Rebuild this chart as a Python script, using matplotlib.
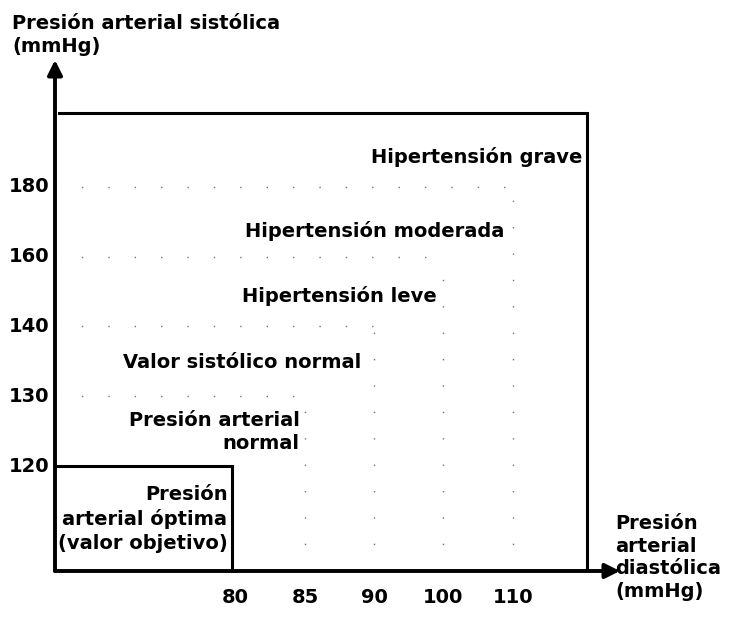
import numpy as np
import matplotlib
matplotlib.use("Agg")
import matplotlib.pyplot as plt

# Límites de clasificación (mmHg)
diastolic_ticks = [80, 85, 90, 100, 110]
systolic_ticks = [120, 130, 140, 160, 180]
categories = [
    "Presión\narterial óptima\n(valor objetivo)",
    "Presión arterial\nnormal",
    "Valor sistólico normal",
    "Hipertensión leve",
    "Hipertensión moderada",
    "Hipertensión grave",
]

plt.rcParams["font.family"] = ["DejaVu Sans"]
plt.rcParams["font.weight"] = "bold"

fig = plt.figure(figsize=(7.42, 6.26), dpi=100)
ax = fig.add_axes([55 / 742, 1 - 571 / 626, 565 / 742, 511 / 626])

x_pos = np.arange(len(diastolic_ticks))
y_pos = np.arange(len(systolic_ticks))
ax.set_xlim(-2.61, 5.55)
ax.set_ylim(-1.505, 5.82)

outer_x, outer_y = x_pos[-1] + 1.07, y_pos[-1] + 1.06

# cajas anidadas (casi borradas en el original)
for i in range(1, len(x_pos)):
    ax.plot([-2.61, x_pos[i]], [y_pos[i], y_pos[i]], color="0.45", lw=1.0,
            linestyle=(0, (1, 18)))
    ax.plot([x_pos[i], x_pos[i]], [-1.505, y_pos[i]], color="0.45", lw=1.0,
            linestyle=(0, (1, 18)))

# caja óptima
ax.plot([-2.61, x_pos[0] - 0.05, x_pos[0] - 0.05], [y_pos[0], y_pos[0], -1.505],
        color="black", lw=2.2, solid_joinstyle="miter")
# caja exterior
ax.plot([-2.55, outer_x, outer_x], [outer_y, outer_y, -1.505],
        color="black", lw=2.2, solid_joinstyle="miter")

for sp in ax.spines.values():
    sp.set_visible(False)

# ejes con flecha
ax.annotate("", xy=(1.0, 0), xytext=(0, 0), xycoords="axes fraction",
            arrowprops=dict(arrowstyle="-|>", lw=2.8, color="black", mutation_scale=22,
                            shrinkA=0, shrinkB=0))
ax.annotate("", xy=(0, 1.0), xytext=(0, 0), xycoords="axes fraction",
            arrowprops=dict(arrowstyle="-|>", lw=2.8, color="black", mutation_scale=22,
                            shrinkA=0, shrinkB=0))

ax.set_xticks(x_pos)
ax.set_xticklabels([str(v) for v in diastolic_ticks])
ax.set_yticks(y_pos)
ax.set_yticklabels([str(v) for v in systolic_ticks])
ax.tick_params(axis="x", length=0, pad=12, labelsize=14)
ax.tick_params(axis="y", length=0, pad=4, labelsize=14)
for lbl in ax.get_yticklabels():
    lbl.set_verticalalignment("center")

# etiquetas de las zonas
label_xy = [(-0.12, -0.76), (0.92, 0.49), (1.82, 1.49), (2.9, 2.44), (3.88, 3.37), (5.01, 4.43)]
for text, (tx, ty) in zip(categories, label_xy):
    ax.text(tx, ty, text, ha="right", va="center", multialignment="right",
            fontsize=14, fontweight="bold", linespacing=1.3)

fig.text(12 / 742, 1 - 14 / 626, "Presión arterial sistólica\n(mmHg)", ha="left", va="top",
         fontsize=14, fontweight="bold", linespacing=1.3)
fig.text(615 / 742, 1 - 514 / 626, "Presión\narterial\ndiastólica\n(mmHg)", ha="left", va="top",
         fontsize=14, fontweight="bold", linespacing=1.25)

fig.savefig("out.png", dpi=100)
